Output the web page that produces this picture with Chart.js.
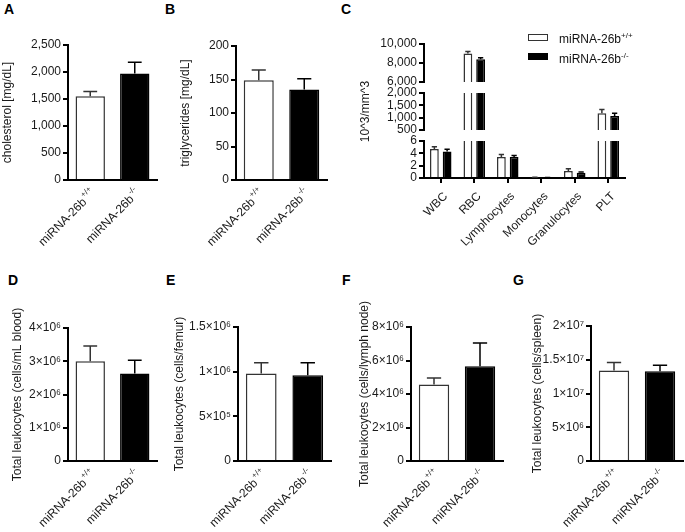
<!DOCTYPE html>
<html>
<head>
<meta charset="utf-8">
<script src="https://cdn.jsdelivr.net/npm/chart.js@4.4.1/dist/chart.umd.min.js"></script>
<style>
body { margin: 0; background: #fff; }
#wrap { position: relative; width: 685px; height: 532px; overflow: hidden; font-family: "Liberation Sans", Arial, sans-serif; }
canvas { position: absolute; }
.lt { position: absolute; font-weight: bold; font-size: 14px; line-height: 14px; color: #000; }
.leg { position: absolute; left: 559px; font-size: 12px; line-height: 14px; color: #111; white-space: nowrap; }
.leg sup { font-size: 8px; vertical-align: 5px; line-height: 0; }
.sw { position: absolute; left: 528px; width: 20px; height: 7px; box-sizing: border-box; }
</style>
</head>
<body>
<div id="wrap">
  <div class="lt" style="left:4px;top:2px">A</div>
  <div class="lt" style="left:165px;top:2px">B</div>
  <div class="lt" style="left:341px;top:2px">C</div>
  <div class="lt" style="left:8px;top:273px">D</div>
  <div class="lt" style="left:166px;top:273px">E</div>
  <div class="lt" style="left:342px;top:273px">F</div>
  <div class="lt" style="left:513px;top:273px">G</div>

  <canvas id="cA"></canvas>
  <canvas id="cB"></canvas>
  <canvas id="cC1"></canvas>
  <canvas id="cC2"></canvas>
  <canvas id="cC3"></canvas>
  <canvas id="cD"></canvas>
  <canvas id="cE"></canvas>
  <canvas id="cF"></canvas>
  <canvas id="cG"></canvas>

  <div class="sw" style="top:34px;background:#fff;border:1.5px solid #333"></div>
  <div class="leg" style="top:32px">miRNA-26b<sup>+/+</sup></div>
  <div class="sw" style="top:53px;background:#000"></div>
  <div class="leg" style="top:52px">miRNA-26b<sup>-/-</sup></div>
</div>
<script>
// groups
var genotypes = ["miRNA-26b", "miRNA-26b"];
var genotypeSup = ["+/+", "-/-"];

// A, B
var cholesterol = [1550, 1970];
var cholesterolErr = [90, 210];
var cholesterolAxis = [0, 2500, 500];
var triglycerides = [149, 135];
var triglyceridesErr = [15, 16];
var triglyceridesAxis = [0, 200, 50];

// C (broken axis, three segments)
var bloodCats = ["WBC", "RBC", "Lymphocytes", "Monocytes", "Granulocytes", "PLT"];
var bloodWT = [4.7, 9000, 3.4, 0.1, 1.15, 1180];
var bloodWTErr = [0.35, 200, 0.4, 0.04, 0.35, 150];
var bloodKO = [4.3, 8400, 3.4, 0.06, 0.85, 1070];
var bloodKOErr = [0.35, 150, 0.25, 0.03, 0.12, 110];
var bloodAxisTop = [6000, 10000, 2000];
var bloodAxisMid = [500, 2000, 500];
var bloodAxisLow = [0, 6, 2];

// D - G
var leukBlood = [3.0e6, 2.63e6];
var leukBloodErr = [0.46e6, 0.4e6];
var leukBloodAxis = [0, 4e6, 1e6];
var leukFemur = [0.98e6, 0.96e6];
var leukFemurErr = [0.12e6, 0.14e6];
var leukFemurAxis = [0, 1.5e6, 5e5];
var leukLymph = [4.56e6, 5.65e6];
var leukLymphErr = [0.4e6, 1.4e6];
var leukLymphAxis = [0, 8e6, 2e6];
var leukSpleen = [1.34e7, 1.33e7];
var leukSpleenErr = [0.12e7, 0.09e7];
var leukSpleenAxis = [0, 2e7, 5e6];

var FONT = "'Liberation Sans', Arial, sans-serif";
Chart.defaults.font.family = FONT;
Chart.defaults.font.size = 12;
Chart.defaults.color = "#1a1a1a";

var SUP = { "0": "⁰", "1": "¹", "2": "²", "3": "³", "4": "⁴", "5": "⁵", "6": "⁶", "7": "⁷", "8": "⁸", "9": "⁹" };
function sci(v) {
  if (v === 0) return "0";
  var e = Math.floor(Math.log10(v) + 1e-9);
  var m = +(v / Math.pow(10, e)).toFixed(2);
  return m + "×10" + String(e).split("").map(function (d) { return SUP[d]; }).join("");
}
function comma(v) { return v.toLocaleString("en-US"); }

var errorBars = {
  id: "errorBars",
  afterDatasetsDraw: function (chart, args, o) {
    var ctx = chart.ctx, a = chart.chartArea;
    ctx.save();
    ctx.beginPath();
    ctx.rect(a.left, a.top - 1, a.right - a.left, a.bottom - a.top + 1);
    ctx.clip();
    chart.data.datasets.forEach(function (ds, di) {
      var meta = chart.getDatasetMeta(di);
      var y = chart.scales[meta.yAxisID];
      meta.data.forEach(function (bar, i) {
        var v = ds.data[i], e = ds.errors[i];
        var yTop = y.getPixelForValue(v + e), yBase = y.getPixelForValue(v);
        var cw = bar.width * o.cap / 2;
        ctx.strokeStyle = Array.isArray(ds.borderColor) ? ds.borderColor[i] : ds.borderColor;
        ctx.lineWidth = 1.5;
        ctx.beginPath();
        ctx.moveTo(bar.x, yBase); ctx.lineTo(bar.x, yTop);
        ctx.moveTo(bar.x - cw, yTop); ctx.lineTo(bar.x + cw, yTop);
        ctx.stroke();
      });
    });
    ctx.restore();
  }
};

// rotated category labels, with optional superscript
var xLabels = {
  id: "xLabels",
  afterDraw: function (chart, args, o) {
    var ctx = chart.ctx, xs = chart.scales.x, yb = chart.chartArea.bottom;
    chart.data.labels.forEach(function (lab, i) {
      var px = xs.getPixelForValue(i);
      var sup = o.sups ? o.sups[i] : "";
      ctx.save();
      ctx.translate(px + o.dx, yb + o.dy);
      ctx.rotate(-Math.PI / 4);
      ctx.fillStyle = "#1a1a1a";
      ctx.textBaseline = "middle";
      ctx.textAlign = "right";
      ctx.font = "8px " + FONT;
      var sw = sup ? ctx.measureText(sup).width + 1 : 0;
      if (sup) ctx.fillText(sup, 0, -5);
      ctx.font = "12px " + FONT;
      ctx.fillText(lab, -sw, 0);
      ctx.restore();
    });
  }
};

function makeChart(id, box, area, titleX, spec) {
  var cv = document.getElementById(id);
  cv.width = box.w; cv.height = box.h;
  cv.style.left = box.x + "px"; cv.style.top = box.y + "px";
  var padL = titleX - 7.2 - box.x;
  var yW = area.l - box.x - padL;
  var plugins = [errorBars];
  if (spec.labels) plugins.push(xLabels);
  return new Chart(cv, {
    type: "bar",
    data: { labels: spec.cats, datasets: spec.datasets },
    options: {
      responsive: false,
      animation: false,
      layout: { padding: { left: padL, top: area.t - box.y, right: box.x + box.w - area.r, bottom: box.y + box.h - area.b } },
      plugins: {
        legend: { display: false },
        tooltip: { enabled: false },
        errorBars: { cap: spec.cap },
        xLabels: spec.labels || {}
      },
      scales: {
        x: {
          offset: true,
          grid: { display: !!spec.xTicks, offset: false, drawOnChartArea: false, color: "#000", lineWidth: 2, tickLength: 5 },
          border: { display: spec.xBorder !== false, color: "#000", width: 2 },
          ticks: { display: false },
          afterFit: function (s) { s.height = 0; }
        },
        y: {
          min: spec.axis[0], max: spec.axis[1],
          ticks: { stepSize: spec.axis[2], autoSkip: false, padding: 2, callback: spec.fmt },
          grid: { drawOnChartArea: false, color: "#000", lineWidth: 2, tickLength: 5 },
          border: { color: "#000", width: 2 },
          title: { display: !!spec.title, text: spec.title, padding: 0, color: "#1a1a1a", font: { size: 12 } },
          afterFit: function (s) { s.width = yW; }
        }
      }
    },
    plugins: plugins
  });
}

function pairSpec(values, errors, axis, title, fmt) {
  return {
    cats: genotypes,
    datasets: [{
      data: values, errors: errors,
      backgroundColor: ["#fff", "#000"], borderColor: ["#333", "#000"], borderWidth: 1.5,
      barPercentage: 0.66, categoryPercentage: 1, clip: 0
    }],
    axis: axis, title: title, fmt: fmt, cap: 0.47,
    labels: { sups: genotypeSup, dx: 3.5, dy: 11.5 }
  };
}

makeChart("cA", { x: 0, y: 20, w: 165, h: 240 }, { l: 68, t: 45, r: 157, b: 180 }, 8,
  pairSpec(cholesterol, cholesterolErr, cholesterolAxis, "cholesterol [mg/dL]", comma));
makeChart("cB", { x: 165, y: 20, w: 175, h: 240 }, { l: 236, t: 46, r: 327, b: 180 }, 186,
  pairSpec(triglycerides, triglyceridesErr, triglyceridesAxis, "triglycerides [mg/dL]", comma));

function bloodSpec(axis, title, labels) {
  return {
    cats: bloodCats,
    datasets: [
      { data: bloodWT, errors: bloodWTErr, backgroundColor: "#fff", borderColor: "#333", borderWidth: 1.5,
        barPercentage: 0.69, categoryPercentage: 0.76, clip: 0 },
      { data: bloodKO, errors: bloodKOErr, backgroundColor: "#000", borderColor: "#000", borderWidth: 1.5,
        barPercentage: 0.69, categoryPercentage: 0.76, clip: 0 }
    ],
    axis: axis, title: title, fmt: comma, cap: 0.6,
    xTicks: !!labels, xBorder: !!labels, labels: labels
  };
}
var cBox = { x: 340, y: 20, w: 345, h: 240 };
makeChart("cC1", cBox, { l: 424, t: 44, r: 625, b: 82 }, 366, bloodSpec(bloodAxisTop, "", null));
makeChart("cC2", cBox, { l: 424, t: 93, r: 625, b: 130 }, 366, bloodSpec(bloodAxisMid, "10^3/mm^3", null));
makeChart("cC3", cBox, { l: 424, t: 141, r: 625, b: 178 }, 366, bloodSpec(bloodAxisLow, "", { dx: 5, dy: 16.5 }));

makeChart("cD", { x: 0, y: 270, w: 170, h: 262 }, { l: 68, t: 328, r: 157, b: 461 }, 18,
  pairSpec(leukBlood, leukBloodErr, leukBloodAxis, "Total leukocytes (cells/mL blood)", sci));
makeChart("cE", { x: 170, y: 270, w: 170, h: 262 }, { l: 238, t: 327, r: 331, b: 461 }, 180,
  pairSpec(leukFemur, leukFemurErr, leukFemurAxis, "Total leukocytes (cells/femur)", sci));
makeChart("cF", { x: 340, y: 270, w: 170, h: 262 }, { l: 411, t: 327, r: 503, b: 461 }, 365,
  pairSpec(leukLymph, leukLymphErr, leukLymphAxis, "Total leukocytes (cells/lymph node)", sci));
makeChart("cG", { x: 510, y: 270, w: 175, h: 262 }, { l: 591, t: 326, r: 683, b: 461 }, 538,
  pairSpec(leukSpleen, leukSpleenErr, leukSpleenAxis, "Total leukocytes (cells/spleen)", sci));
</script>
</body>
</html>
